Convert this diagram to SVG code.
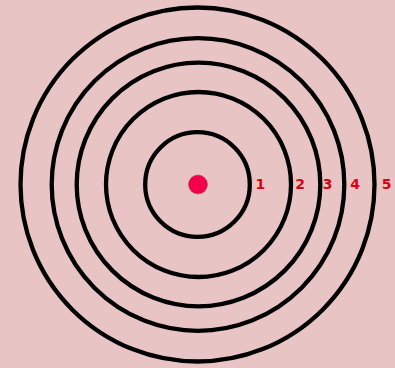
<svg xmlns="http://www.w3.org/2000/svg" width="395" height="368" viewBox="0 0 395 368">
<style>
.ring{fill:none;stroke:#000;stroke-width:4.3}
.lbl{font-family:"DejaVu Sans",Verdana,sans-serif;font-weight:bold;font-size:14px;fill:#dd0010;text-anchor:middle}
</style>
<rect width="395" height="368" fill="#e8c4c5"/>
<g id="rings">
<circle id="ring1" class="ring" cx="197.5" cy="184.5" r="52.3"/>
<circle id="ring2" class="ring" cx="198.5" cy="184.5" r="92.5"/>
<circle id="ring3" class="ring" cx="198.5" cy="184.5" r="121.8"/>
<circle id="ring4" class="ring" cx="198" cy="184.5" r="146.3"/>
<circle id="ring5" class="ring" cx="197.5" cy="184.5" r="177"/>
</g>
<g id="center"><circle cx="198" cy="184.5" r="9.5" fill="#f2004a" stroke="#a05060" stroke-width="0.6"/></g>
<g id="labels">
<text class="lbl" x="260.3" y="188.5">1</text>
<text class="lbl" x="300" y="188.5">2</text>
<text class="lbl" x="327.7" y="188.5">3</text>
<text class="lbl" x="355" y="188.5">4</text>
<text class="lbl" x="386.5" y="188.5">5</text>
</g>
</svg>
